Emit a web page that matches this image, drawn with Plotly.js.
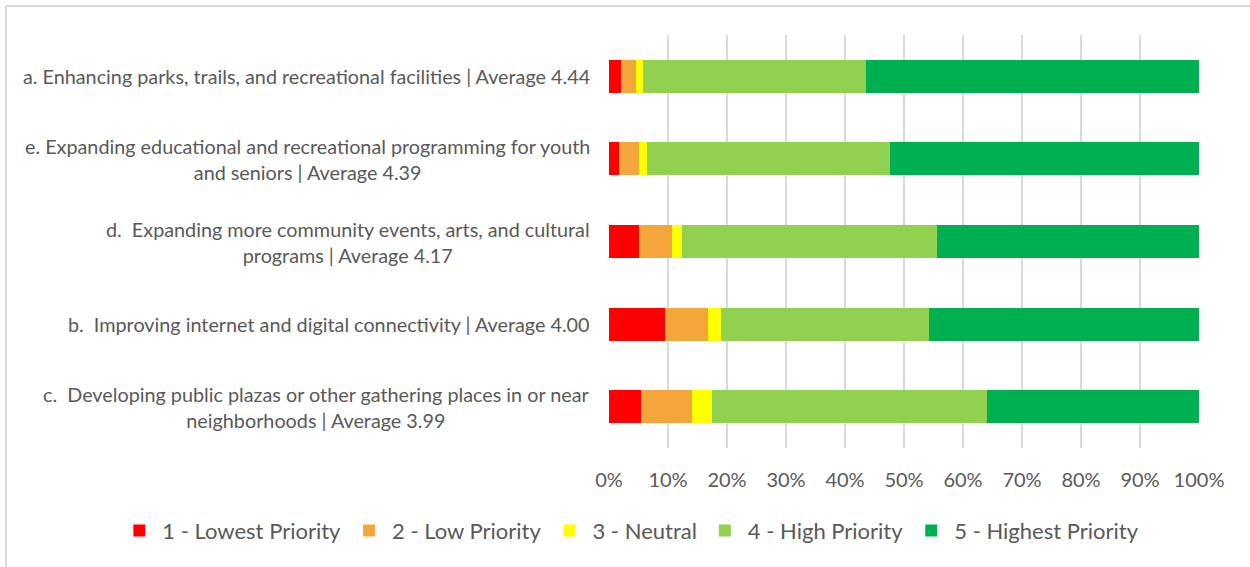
<!DOCTYPE html>
<html>
<head>
<meta charset="utf-8">
<script src="https://cdn.plot.ly/plotly-3.0.1.min.js"></script>
<style>
  html, body { margin: 0; padding: 0; background: #fff; }
  #chart { width: 1250px; height: 567px; }
</style>
</head>
<body>
<div id="chart"></div>
<script>
const categories = ["a", "e", "d", "b", "c"];
const categoryLabels = [
  "a. Enhancing parks, trails, and recreational facilities | Average 4.44",
  "e. Expanding educational and recreational programming for youth<br>and seniors | Average 4.39",
  "d.  Expanding more community events, arts, and cultural<br>programs | Average 4.17",
  "b.  Improving internet and digital connectivity | Average 4.00",
  "c.  Developing public plazas or other gathering places in or near<br>neighborhoods | Average 3.99"
];
const seriesNames = ["1 - Lowest Priority", "2 - Low Priority", "3 - Neutral", "4 - High Priority", "5 - Highest Priority"];
const lowest  = [2.0, 1.7, 5.0, 9.5, 5.5];
const low     = [2.6, 3.3, 5.6, 7.3, 8.5];
const neutral = [1.1, 1.4, 1.7, 2.2, 3.5];
const high    = [37.9, 41.2, 43.3, 35.3, 46.6];
const highest = [56.4, 52.4, 44.4, 45.7, 35.9];
const tickVals = [0, 10, 20, 30, 40, 50, 60, 70, 80, 90, 100];
const tickText = ["0%", "10%", "20%", "30%", "40%", "50%", "60%", "70%", "80%", "90%", "100%"];

const colors = ["#FF0000", "#F3A63B", "#FFFF00", "#92D050", "#00B050"];
const seriesVals = [lowest, low, neutral, high, highest];

const FONT = "Lato, 'Open Sans', sans-serif";

const traces = seriesVals.map((vals, i) => ({
  type: "bar",
  orientation: "h",
  name: seriesNames[i],
  x: vals,
  y: categories,
  marker: { color: colors[i], line: { width: 0 } },
  hoverinfo: "skip"
}));

const annotations = categories.map((c, i) => ({
  xref: "paper", yref: "y",
  x: -0.029, y: c,
  xanchor: "right", yanchor: "middle",
  align: "center",
  text: categoryLabels[i],
  showarrow: false,
  font: { family: FONT, size: 19.8, color: "#595959" }
}));

const layout = {
  width: 1250, height: 567,
  margin: { l: 609, r: 51, t: 35, b: 119, autoexpand: false },
  paper_bgcolor: "#ffffff",
  plot_bgcolor: "#ffffff",
  barmode: "stack",
  bargap: 0.6,
  showlegend: true,
  legend: {
    orientation: "h",
    xref: "paper", yref: "paper",
    x: -0.835, xanchor: "left",
    y: -0.2, yanchor: "middle",
    font: { family: FONT, size: 22, color: "#595959" },
    traceorder: "normal",
    itemwidth: 36
  },
  xaxis: {
    range: [0, 100],
    tickvals: tickVals,
    ticktext: tickText,
    showgrid: true,
    gridcolor: "#d9d9d9",
    gridwidth: 1.8,
    zeroline: false,
    showline: false,
    ticks: "",
    ticklabelstandoff: 18,
    tickfont: { family: FONT, size: 20, color: "#595959" },
    fixedrange: true
  },
  yaxis: {
    type: "category",
    categoryorder: "array",
    categoryarray: categories,
    autorange: "reversed",
    showticklabels: false,
    showgrid: false,
    zeroline: false,
    showline: false,
    ticks: "",
    fixedrange: true
  },
  annotations: annotations,
  shapes: [
    { type: "line", xref: "paper", yref: "paper", x0: -1.022, x1: 1.1, y0: 1.07, y1: 1.07, line: { color: "#d9d9d9", width: 2 } },
    { type: "line", xref: "paper", yref: "paper", x0: -1.022, x1: -1.022, y0: 1.07, y1: -0.3, line: { color: "#d9d9d9", width: 2 } }
  ]
};

Plotly.newPlot("chart", traces, layout, { displayModeBar: false, staticPlot: true });
</script>
</body>
</html>
